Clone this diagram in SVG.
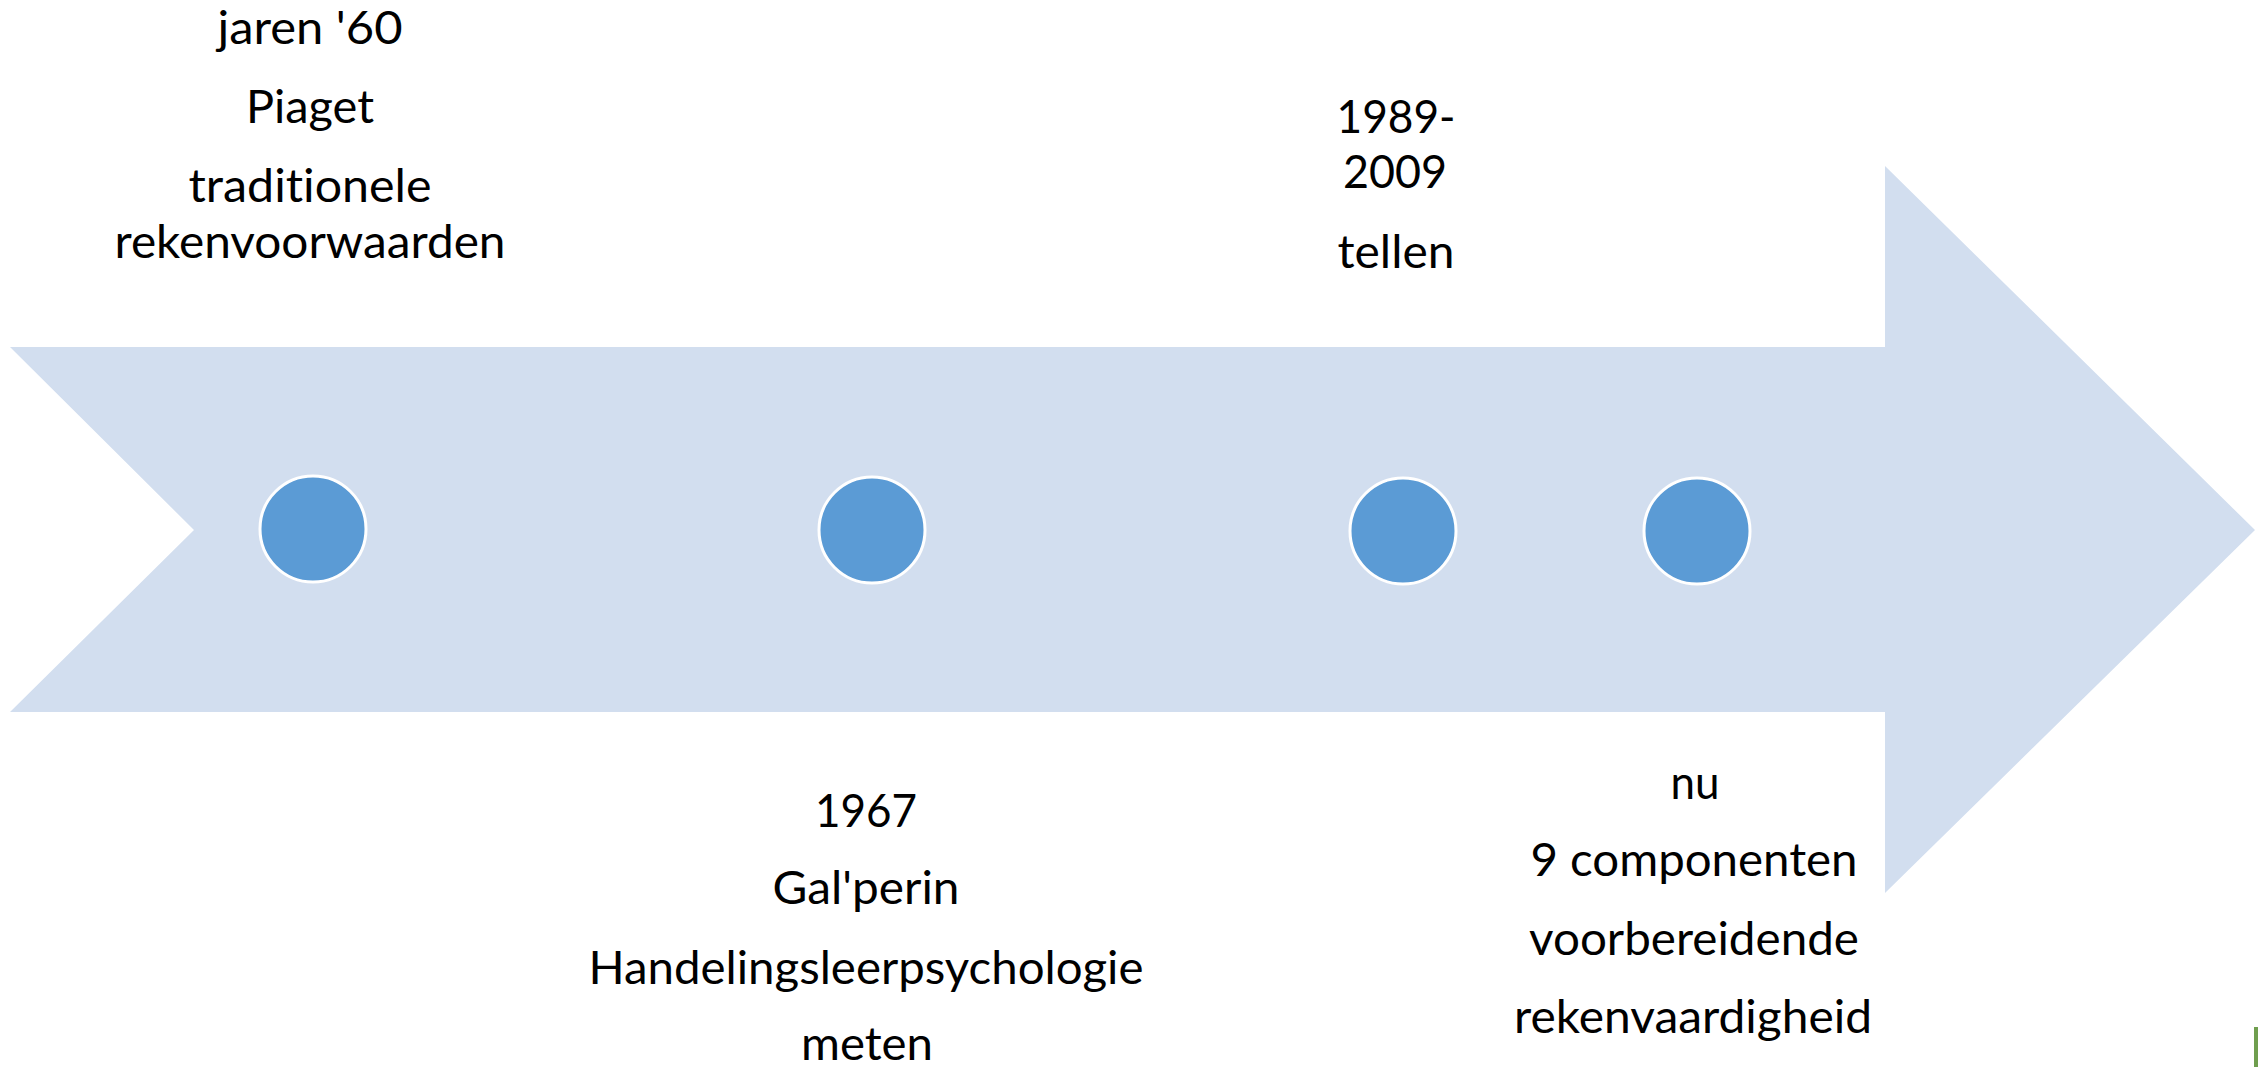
<svg xmlns="http://www.w3.org/2000/svg" width="2263" height="1067" viewBox="0 0 2263 1067">
  <style>
    .lbl { font-family: Lato, "Open Sans", "Liberation Sans", sans-serif; font-size: 46px; fill: #000; text-anchor: middle; font-variant-ligatures: none; }
    .dot { fill: #5B9BD5; stroke: #FFFFFF; stroke-width: 3; }
  </style>
  <rect width="2263" height="1067" fill="#FFFFFF"/>
  <g id="timeline-arrow">
    <polygon points="10,347 1885,347 1885,166 2255,530 1885,893 1885,712 10,712 194,530" fill="#D2DEEF"/>
  </g>
  <g id="connectors"></g>
  <g id="node-1">
    <circle class="dot" cx="313" cy="529" r="53"/>
    <text class="lbl" x="310" y="44" textLength="185" lengthAdjust="spacingAndGlyphs">jaren '60</text>
    <text class="lbl" x="310" y="123" textLength="128" lengthAdjust="spacingAndGlyphs">Piaget</text>
    <text class="lbl" x="310" y="202" textLength="243" lengthAdjust="spacingAndGlyphs">traditionele</text>
    <text class="lbl" x="310" y="258" textLength="391" lengthAdjust="spacingAndGlyphs">rekenvoorwaarden</text>
  </g>
  <g id="node-2">
    <circle class="dot" cx="872" cy="530" r="53"/>
    <text class="lbl" x="866" y="827" textLength="102" lengthAdjust="spacingAndGlyphs">1967</text>
    <text class="lbl" x="866" y="904" textLength="187" lengthAdjust="spacingAndGlyphs">Gal'perin</text>
    <text class="lbl" x="866" y="984" textLength="555" lengthAdjust="spacingAndGlyphs">Handelingsleerpsychologie</text>
    <text class="lbl" x="867" y="1060" textLength="132" lengthAdjust="spacingAndGlyphs">meten</text>
  </g>
  <g id="node-3">
    <circle class="dot" cx="1403" cy="531" r="53"/>
    <text class="lbl" x="1396" y="133" textLength="119" lengthAdjust="spacingAndGlyphs">1989-</text>
    <text class="lbl" x="1395" y="188" textLength="104" lengthAdjust="spacingAndGlyphs">2009</text>
    <text class="lbl" x="1396" y="268" textLength="117" lengthAdjust="spacingAndGlyphs">tellen</text>
  </g>
  <g id="node-4">
    <circle class="dot" cx="1697" cy="531" r="53"/>
    <text class="lbl" x="1695" y="799" textLength="49" lengthAdjust="spacingAndGlyphs">nu</text>
    <text class="lbl" x="1694" y="876" textLength="327" lengthAdjust="spacingAndGlyphs">9 componenten</text>
    <text class="lbl" x="1694" y="955" textLength="330" lengthAdjust="spacingAndGlyphs">voorbereidende</text>
    <text class="lbl" x="1693" y="1033" textLength="358" lengthAdjust="spacingAndGlyphs">rekenvaardigheid</text>
  </g>
  <rect x="2254" y="1027" width="4" height="40" fill="#6F9E4E"/>
</svg>
